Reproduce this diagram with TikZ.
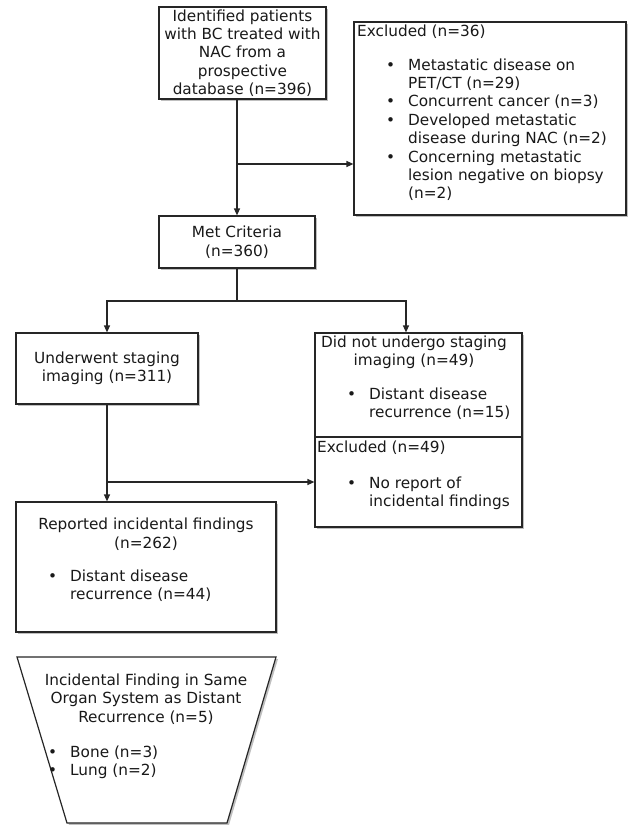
\documentclass[tikz,border=0pt]{standalone}
\usepackage{fontspec}
\setmainfont{DejaVu Sans}
\usetikzlibrary{arrows.meta,shadows}
\newcommand\bl{\makebox[22pt][l]{•}}
\newcommand\bi{\hspace*{22pt}}
\begin{document}
\begin{tikzpicture}[x=1pt,y=-1pt,
  box/.style={draw=black!85, line width=1.2pt, fill=white, inner sep=0pt,
    drop shadow={shadow xshift=2pt, shadow yshift=-2pt, opacity=0.25, fill=black}},
  txt/.style={inner sep=0pt, font=\fontsize{15.3}{18.4}\selectfont, text=black!90},
  conn/.style={draw=black!85, line width=1.2pt},
  arr/.style={conn, -{Triangle[length=7pt,width=6pt]}}]
\useasboundingbox (0,0) rectangle (629,825);
% boxes
\node[box, txt, align=center, minimum width=167pt, minimum height=92pt] (b1) at (242.5,53)
  {Identified patients\\with BC treated with\\NAC from a\\prospective\\database (n=396)};
\node[box, minimum width=272pt, minimum height=193pt] (excl) at (490,118.5) {};
\node[txt, anchor=west] (exclt) at (357,32) {Excluded (n=36)};
\node[txt, anchor=north west, align=left] (excll) at (386,57)
  {\strut\bl Metastatic disease on\\\bi PET/CT (n=29)\\\bl Concurrent cancer (n=3)\\\bl Developed metastatic\\\bi disease during NAC (n=2)\\\bl Concerning metastatic\\\bi lesion negative on biopsy\\\bi (n=2)};
\node[box, txt, align=center, minimum width=156pt, minimum height=52pt] (met) at (237,242)
  {Met Criteria\\(n=360)};
\node[box, txt, align=center, minimum width=182pt, minimum height=71pt] (under) at (107,368.5)
  {Underwent staging\\imaging (n=311)};
\node[box, minimum width=207pt, minimum height=104pt] (dn) at (418.5,385) {};
\node[box, minimum width=207pt, minimum height=90pt] (ex2) at (418.5,482) {};
\node[txt, align=center] (dnt) at (414,352) {Did not undergo staging\\imaging (n=49)};
\node[txt, anchor=north west, align=left] (dnl) at (347,386)
  {\strut\bl Distant disease\\\bi recurrence (n=15)};
\node[txt, anchor=west] (ex2t) at (317,448) {Excluded (n=49)};
\node[txt, anchor=north west, align=left] (ex2l) at (347,475)
  {\strut\bl No report of\\\bi incidental findings};
\node[box, minimum width=260pt, minimum height=130pt] (rep) at (146,567) {};
\node[txt, align=center] (rept) at (146,534) {Reported incidental findings\\(n=262)};
\node[txt, anchor=north west, align=left] (repl) at (48,568)
  {\strut\bl Distant disease\\\bi recurrence (n=44)};
% trapezoid
\draw[conn, fill=white, drop shadow={shadow xshift=2pt, shadow yshift=-2pt, opacity=0.25, fill=black}]
  (17,657) -- (276,657) -- (227,823) -- (67,823) -- cycle;
\node[txt, align=center] (trt) at (146,699) {Incidental Finding in Same\\Organ System as Distant\\Recurrence (n=5)};
\node[txt, anchor=north west, align=left] (trl) at (48,744)
  {\strut\bl Bone (n=3)\\\bl Lung (n=2)};
% connectors
\draw[arr] (b1.south -| met.north) -- (met.north);
\coordinate (j1) at (237,164);
\draw[arr] (j1) -- (j1 -| excl.west);
\coordinate (j2) at (237,301);
\coordinate (k2) at (406,301);
\draw[conn] (met.south) -- (j2);
\draw[arr] (j2) -| (under.north);
\draw[arr] (j2) -- (k2) -- (k2 |- dn.north);
\draw[arr] (under.south) -- (under.south |- rep.north);
\coordinate (j3) at (107,482);
\draw[arr] (j3) -- (j3 -| ex2.west);
\end{tikzpicture}
\end{document}
